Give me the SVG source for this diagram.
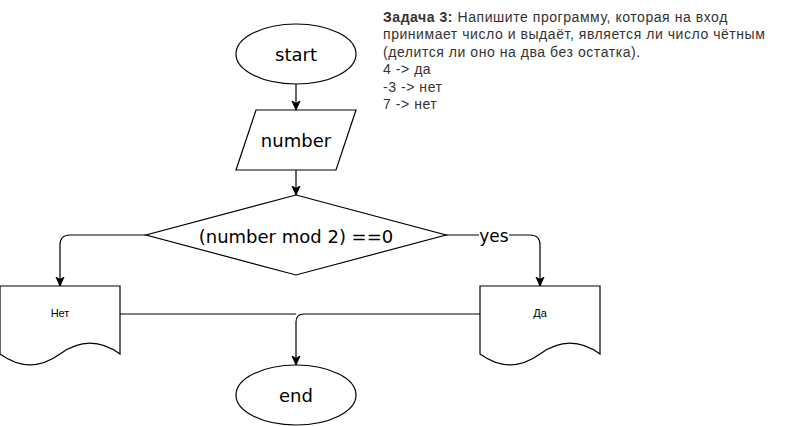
<svg xmlns="http://www.w3.org/2000/svg" width="791" height="426" viewBox="0 0 791 426">
<defs>
<marker id="arr" viewBox="0 0 10 10" refX="9" refY="5" markerWidth="10" markerHeight="10" markerUnits="userSpaceOnUse" orient="auto">
<path d="M0,1 L9,5 L0,9 L2.5,5 Z" fill="#000" stroke="#000" stroke-width="1"/>
</marker>
<style>
.shape{fill:#fff;stroke:#000;stroke-width:1.2}
.edge{fill:none;stroke:#000;stroke-width:1.2}
.lbl{font-family:"DejaVu Sans",sans-serif;font-size:18px;fill:#000;text-anchor:middle;dominant-baseline:central}
.small{font-family:"Liberation Sans",Arial,sans-serif;font-size:11px;fill:#000;text-anchor:middle;dominant-baseline:central}
.note{font-family:"Liberation Sans",Arial,sans-serif;font-size:14px;letter-spacing:0.55px;fill:#333}
</style>
</defs>
<rect width="791" height="426" fill="#fff"/>
<g id="connectors">
<path class="edge" d="M296,84 L296,110" marker-end="url(#arr)"/>
<path class="edge" d="M296,170 L296,195" marker-end="url(#arr)"/>
<path class="edge" d="M146,235 L70,235 Q60,235 60,245 L60,286" marker-end="url(#arr)"/>
<path class="edge" d="M445,235 L530,235 Q540,235 540,245 L540,286" marker-end="url(#arr)"/>
<path class="edge" d="M120,314 L296,314"/>
<path class="edge" d="M480,314 L304,314 Q296,314 296,322 L296,365" marker-end="url(#arr)"/>
<rect x="479" y="228" width="30" height="16" fill="#fff"/>
<text class="lbl" x="494" y="236" style="font-size:17px">yes</text>
</g>
<g id="start">
<ellipse class="shape" cx="296" cy="54" rx="60" ry="30"/>
<text class="lbl" x="296" y="54">start</text>
</g>
<g id="number">
<path class="shape" d="M256,110 L356,110 L336,170 L236,170 Z"/>
<text class="lbl" x="296" y="140">number</text>
</g>
<g id="decision">
<path class="shape" d="M296,195 L446,235 L296,275 L146,235 Z"/>
<text class="lbl" x="296" y="236">(number mod 2) ==0</text>
</g>
<g id="net">
<path class="shape" d="M0,286 L120,286 L120,354 Q90,332.4 60,354 Q30,375.6 0,354 Z"/>
<text class="small" x="60" y="313">Нет</text>
</g>
<g id="da">
<path class="shape" d="M480,286 L600,286 L600,354 Q570,332.4 540,354 Q510,375.6 480,354 Z"/>
<text class="small" x="540" y="313">Да</text>
</g>
<g id="end">
<ellipse class="shape" cx="296" cy="395" rx="60" ry="30"/>
<text class="lbl" x="296" y="395">end</text>
</g>
<g id="note">
<text class="note" x="383" y="22"><tspan font-weight="bold">Задача 3:</tspan> Напишите программу, которая на вход</text>
<text class="note" x="383" y="39.4">принимает число и выдаёт, является ли число чётным</text>
<text class="note" x="383" y="56.8">(делится ли оно на два без остатка).</text>
<text class="note" x="383" y="74.2">4 -&gt; да</text>
<text class="note" x="383" y="91.6">-3 -&gt; нет</text>
<text class="note" x="383" y="109">7 -&gt; нет</text>
</g>
</svg>
